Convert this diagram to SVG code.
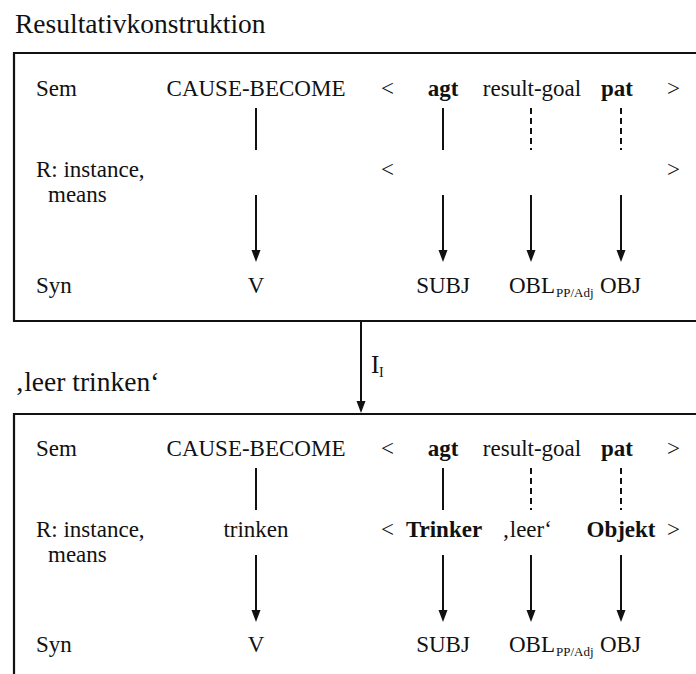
<svg xmlns="http://www.w3.org/2000/svg" width="696" height="674" viewBox="0 0 696 674" font-family="'Liberation Serif', 'DejaVu Serif', serif">
  <style>
    text { font-family: 'Liberation Serif', 'DejaVu Serif', serif; fill: #111; }
    .heading { font-size: 27.5px; }
    .t { font-size: 23px; }
    .b { font-weight: bold; }
    .mid { text-anchor: middle; }
    .sub { font-size: 13px; }
    .frame { fill: none; stroke: #111; stroke-width: 2.2; }
    .link { stroke: #111; stroke-width: 2; fill: none; }
    .dash { stroke-dasharray: 6 4; }
    .arrow { marker-end: url(#head); }
  </style>
  <defs>
    <marker id="head" markerUnits="userSpaceOnUse" markerWidth="12" markerHeight="10" refX="2" refY="4.5" orient="auto">
      <path d="M0,0 L12,4.5 L0,9 z" fill="#111"/>
    </marker>
  </defs>

  <!-- Construction: Resultativkonstruktion -->
  <g id="resultativkonstruktion">
    <text class="heading" x="15" y="33">Resultativkonstruktion</text>
    <path class="frame" d="M696,53 H14 V321 H696"/>
    <text class="t" x="36" y="96">Sem</text>
    <text class="t mid" x="256" y="96">CAUSE-BECOME</text>
    <text class="t" x="381" y="96">&lt;</text>
    <text class="t b mid" x="443" y="96">agt</text>
    <text class="t mid" x="532" y="96">result-goal</text>
    <text class="t b mid" x="617" y="96">pat</text>
    <text class="t" x="667" y="96">&gt;</text>

    <text class="t" x="36" y="177">R: instance,</text>
    <text class="t" x="48" y="202">means</text>
    <text class="t" x="381" y="177">&lt;</text>
    <text class="t" x="667" y="177">&gt;</text>

    <text class="t" x="36" y="293">Syn</text>
    <text class="t mid" x="256" y="293">V</text>
    <text class="t mid" x="443" y="293">SUBJ</text>
    <text class="t" x="509" y="293">OBL</text>
    <text class="sub" x="556" y="297">PP/Adj</text>
    <text class="t" x="600" y="293">OBJ</text>
  </g>

  <!-- Instance: 'leer trinken' -->
  <g id="leer-trinken">
    <text class="heading" x="15" y="391">‚leer trinken‘</text>
    <path class="frame" d="M696,414 H14 V680"/>
    <text class="t" x="36" y="456">Sem</text>
    <text class="t mid" x="256" y="456">CAUSE-BECOME</text>
    <text class="t" x="381" y="456">&lt;</text>
    <text class="t b mid" x="443" y="456">agt</text>
    <text class="t mid" x="532" y="456">result-goal</text>
    <text class="t b mid" x="617" y="456">pat</text>
    <text class="t" x="667" y="456">&gt;</text>

    <text class="t" x="36" y="537">R: instance,</text>
    <text class="t" x="48" y="562">means</text>
    <text class="t mid" x="256" y="537">trinken</text>
    <text class="t" x="381" y="537">&lt;</text>
    <text class="t b mid" x="444" y="537">Trinker</text>
    <text class="t mid" x="527" y="537">‚leer‘</text>
    <text class="t b mid" x="621" y="537">Objekt</text>
    <text class="t" x="667" y="537">&gt;</text>

    <text class="t" x="36" y="652">Syn</text>
    <text class="t mid" x="256" y="652">V</text>
    <text class="t mid" x="443" y="652">SUBJ</text>
    <text class="t" x="509" y="652">OBL</text>
    <text class="sub" x="556" y="656">PP/Adj</text>
    <text class="t" x="600" y="652">OBJ</text>
  </g>

  <!-- Links between the rows and the inheritance arrow -->
  <g id="connectors">
    <!-- upper box: Sem to R -->
    <line class="link" x1="256" y1="108" x2="256" y2="150"/>
    <line class="link" x1="443" y1="108" x2="443" y2="150"/>
    <line class="link dash" x1="531" y1="108" x2="531" y2="150"/>
    <line class="link dash" x1="621" y1="108" x2="621" y2="150"/>
    <!-- upper box: R to Syn -->
    <line class="link arrow" x1="256" y1="195" x2="256" y2="252"/>
    <line class="link arrow" x1="443" y1="195" x2="443" y2="252"/>
    <line class="link arrow" x1="531" y1="195" x2="531" y2="252"/>
    <line class="link arrow" x1="621" y1="195" x2="621" y2="252"/>

    <!-- lower box: Sem to R -->
    <line class="link" x1="256" y1="468" x2="256" y2="510"/>
    <line class="link" x1="443" y1="468" x2="443" y2="510"/>
    <line class="link dash" x1="531" y1="468" x2="531" y2="510"/>
    <line class="link dash" x1="621" y1="468" x2="621" y2="510"/>
    <!-- lower box: R to Syn -->
    <line class="link arrow" x1="256" y1="555" x2="256" y2="612"/>
    <line class="link arrow" x1="443" y1="555" x2="443" y2="612"/>
    <line class="link arrow" x1="531" y1="555" x2="531" y2="612"/>
    <line class="link arrow" x1="621" y1="555" x2="621" y2="612"/>

    <!-- instance link I_I -->
    <line class="link arrow" x1="361" y1="322" x2="361" y2="403"/>
    <text x="371" y="373" font-size="25">I</text>
    <text x="379" y="377" font-size="14">I</text>
  </g>
</svg>
